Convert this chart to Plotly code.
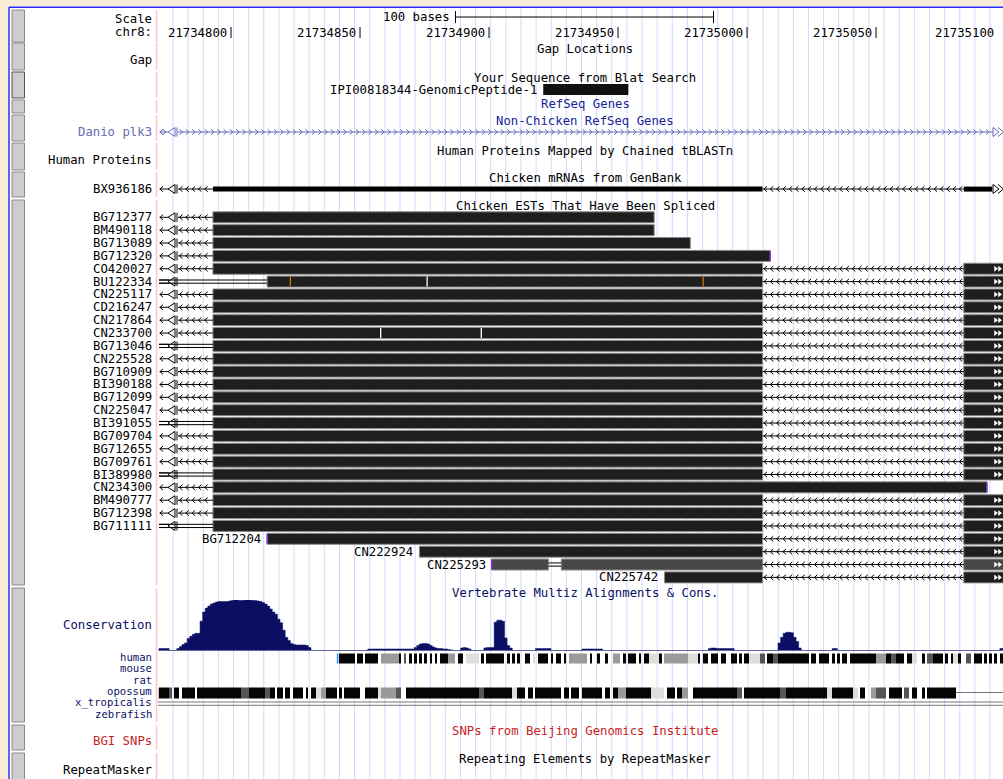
import numpy as np
import plotly.graph_objects as go

# ---------------- data ----------------
W, H = 1003, 779
WIN_START = 21734771.7          # genomic position at left edge of data area
WIN_END = 21735099.2            # genomic position at right edge
WIN_BASE = 21734772             # first base column
N_BASES = 328

ruler_ticks = [21734800, 21734850, 21734900, 21734950, 21735000, 21735050, 21735100]
scale_bar_start = 21734887
scale_bar_bases = 100

blat_name = "IPI00818344-GenomicPeptide-1"
blat_blocks = [(21734921, 21734954)]

mrna_name = "BX936186"
mrna_blocks = [(21734793, 21735006), (21735084, 21735095)]

A, B, C, E = 21734793, 21735006, 21735084, 21735101
std_blocks = [(A, B), (C, E)]

est_names = ["BG712377", "BM490118", "BG713089", "BG712320", "CO420027", "BU122334",
             "CN225117", "CD216247", "CN217864", "CN233700", "BG713046", "CN225528",
             "BG710909", "BI390188", "BG712099", "CN225047", "BI391055", "BG709704",
             "BG712655", "BG709761", "BI389980", "CN234300", "BM490777", "BG712398",
             "BG711111", "BG712204", "CN222924", "CN225293", "CN225742"]
est_blocks = [[(A, 21734964)], [(A, 21734964)], [(A, 21734978)], [(A, 21735009)],
              std_blocks, [(21734814, B), (C, E)],
              std_blocks, std_blocks, std_blocks, std_blocks, std_blocks, std_blocks,
              std_blocks, std_blocks, std_blocks, std_blocks, std_blocks, std_blocks,
              std_blocks, std_blocks, std_blocks, [(A, 21735093)], std_blocks, std_blocks,
              std_blocks, [(21734814, B), (C, E)], [(21734873, B), (C, E)],
              [(21734901, 21734923), (21734928, B), (C, E)], [(21734968, B), (C, E)]]
# left side: 'arrow' = chevron intron, 'double' = unaligned double line, None = inline label
est_left = ["arrow", "arrow", "arrow", "arrow", "arrow", "double",
            "arrow", "arrow", "arrow", "arrow", "double", "arrow",
            "arrow", "arrow", "arrow", "arrow", "double", "arrow",
            "arrow", "arrow", "double", "arrow", "arrow", "arrow",
            "double", None, None, None, None]
est_gray_rows = [27]
est_marks = [(3, 21735009, "#8a2be2"), (25, 21734814, "#8a2be2"), (27, 21734901, "#8a2be2"),
             (21, 21735093, "#8a2be2"), (5, 21734823, "#c87800"), (5, 21734983, "#c87800"),
             (5, 21734876, "#ffffff"), (9, 21734858, "#ffffff"), (9, 21734897, "#ffffff")]

# conservation (base index, value 0..1), held until next point
cons_idx = [0, 4, 7, 8, 9, 10, 11, 12, 13, 14, 16, 17, 18, 19, 20, 21, 22, 23, 27, 28, 29, 31, 33,
            36, 38, 39, 40, 41, 42, 43, 44, 45, 46, 47, 48, 49, 50, 51, 52, 53, 57, 58, 59, 81,
            99, 100, 101, 102, 104, 105, 106, 107, 108, 110, 112, 113, 114, 117, 118, 119, 120,
            121, 126, 127, 130, 131, 133, 134, 135, 136, 137, 146, 152, 164, 172, 213, 214, 216,
            223, 240, 241, 242, 243, 245, 246, 247, 248, 249, 261, 263, 326, 328]
cons_val = [0.04, 0, 0.04, 0.08, 0.12, 0.15, 0.24, 0.28, 0.32, 0.34, 0.58, 0.76, 0.84, 0.88, 0.92,
            0.94, 0.96, 0.97, 0.98, 0.99, 1.0, 0.99, 1.0, 0.99, 0.98, 0.97, 0.95, 0.92, 0.88, 0.82,
            0.76, 0.72, 0.62, 0.55, 0.4, 0.26, 0.2, 0.14, 0.12, 0.11, 0.1, 0.06, 0, 0.03,
            0.06, 0.1, 0.13, 0.14, 0.13, 0.1, 0.07, 0.05, 0.04, 0.03, 0.02, 0.01, 0, 0.05, 0.06,
            0.05, 0.03, 0, 0.05, 0.06, 0.56, 0.6, 0.58, 0.25, 0.1, 0.05, 0, 0.04, 0, 0.03, 0,
            0.04, 0.05, 0.04, 0, 0.15, 0.26, 0.34, 0.36, 0.35, 0.26, 0.18, 0.05, 0, 0.04, 0,
            0.04, 0.04]

# multiz shades: w light, g gray, d dark, k black  (start idx, end idx, shade)
human_segs = [(70, 75, 'k'), (77, 78, 'k'), (80, 84, 'k'), (86, 92, 'g'), (93, 93, 'k'), (95, 95, 'd'),
              (97, 97, 'k'), (99, 99, 'k'), (101, 101, 'k'), (103, 103, 'k'), (105, 105, 'k'),
              (107, 107, 'k'), (109, 111, 'k'), (112, 114, 'g'), (116, 117, 'k'), (119, 123, 'w'),
              (125, 125, 'k'), (127, 133, 'k'), (135, 135, 'k'), (137, 137, 'k'), (139, 139, 'k'),
              (142, 143, 'k'), (145, 145, 'w'), (147, 150, 'k'), (152, 152, 'k'), (154, 155, 'k'),
              (157, 157, 'k'), (159, 165, 'g'), (167, 167, 'k'), (170, 170, 'k'), (173, 173, 'k'),
              (176, 178, 'g'), (180, 180, 'k'), (182, 184, 'k'), (186, 186, 'k'), (188, 189, 'k'),
              (190, 193, 'w'), (194, 194, 'k'), (196, 204, 'g'), (205, 208, 'w'), (209, 209, 'k'),
              (211, 212, 'k'), (214, 216, 'k'), (218, 219, 'k'), (222, 223, 'k'), (225, 225, 'k'),
              (227, 228, 'k'), (229, 232, 'w'), (233, 234, 'd'), (236, 237, 'k'), (238, 239, 'd'),
              (240, 249, 'k'), (250, 251, 'k'), (253, 254, 'k'), (256, 257, 'k'), (258, 259, 'k'),
              (261, 261, 'k'), (263, 263, 'k'), (265, 266, 'k'), (268, 273, 'k'), (274, 277, 'k'),
              (278, 281, 'g'), (282, 283, 'k'), (284, 285, 'd'), (286, 288, 'k'), (290, 291, 'k'),
              (292, 293, 'w'), (296, 296, 'k'), (298, 299, 'd'), (300, 303, 'k'), (305, 305, 'k'),
              (307, 307, 'k'), (308, 309, 'w'), (310, 310, 'k'), (313, 314, 'd'), (316, 318, 'k'),
              (320, 320, 'k'), (322, 322, 'k'), (324, 324, 'k'), (326, 327, 'k')]
opossum_segs = [(0, 3, 'k'), (4, 4, 'd'), (6, 7, 'k'), (9, 13, 'k'), (15, 31, 'k'), (32, 34, 'd'),
                (35, 40, 'k'), (41, 42, 'd'), (43, 44, 'k'), (46, 47, 'k'), (49, 50, 'k'),
                (52, 55, 'k'), (57, 57, 'k'), (59, 60, 'k'), (61, 62, 'w'), (63, 64, 'g'),
                (65, 68, 'k'), (70, 70, 'k'), (72, 74, 'k'), (75, 77, 'k'), (80, 81, 'k'),
                (82, 84, 'k'), (85, 85, 'w'), (86, 91, 'g'), (92, 93, 'd'), (96, 123, 'k'),
                (124, 125, 'd'), (126, 136, 'k'), (137, 138, 'w'), (139, 141, 'k'), (143, 144, 'k'),
                (146, 153, 'k'), (154, 155, 'k'), (157, 158, 'k'), (160, 162, 'k'), (164, 171, 'k'),
                (173, 174, 'k'), (176, 177, 'k'), (178, 180, 'g'), (181, 182, 'k'), (183, 190, 'k'),
                (191, 195, 'w'), (197, 199, 'k'), (201, 202, 'k'), (203, 204, 'g'), (207, 213, 'k'),
                (214, 223, 'k'), (224, 225, 'd'), (227, 228, 'k'), (229, 234, 'k'), (235, 240, 'k'),
                (241, 242, 'd'), (243, 250, 'k'), (251, 252, 'k'), (253, 258, 'k'), (259, 260, 'w'),
                (261, 266, 'k'), (267, 268, 'k'), (269, 270, 'w'), (272, 273, 'k'), (276, 277, 'g'),
                (278, 281, 'd'), (283, 287, 'k'), (289, 290, 'd'), (292, 293, 'k'), (296, 296, 'k'),
                (298, 301, 'k'), (302, 304, 'k'), (305, 308, 'k')]
opossum_tail = (309, 327)
human_start_mark = 69

species = ["human", "mouse", "rat", "opossum", "x_tropicalis", "zebrafish"]
species_y = [657, 668.4, 679.8, 691.2, 702.6, 714]

# ---------------- style / layout helpers ----------------
FONT = "DejaVu Sans Mono"
FS = 12.3
FS_SPECIES = 10.6
DATA_LEFT = 158
BPP = (WIN_END - WIN_START) / (W - DATA_LEFT)   # bases per pixel
NAVY = "rgb(10,15,100)"
BLUE = "rgb(25,35,150)"
DANIO = "rgb(105,105,180)"
RED = "rgb(200,30,30)"
EST_Y0, EST_DY, EST_H = 217.3, 12.86, 11.0


def gx(px_from_left):
    return WIN_START + (px_from_left - DATA_LEFT) * BPP


def px(p):
    return p / W


fig = go.Figure()
shapes = []
ann = []

# background decorations
shapes.append(dict(type="rect", xref="paper", yref="y", x0=0, x1=px(8), y0=0, y1=H,
                   fillcolor="#f8ecd6", line_width=0, layer="below"))
shapes.append(dict(type="rect", xref="paper", yref="y", x0=0, x1=1, y0=0, y1=6.5,
                   fillcolor="#f8ecd6", line_width=0, layer="below"))
shapes.append(dict(type="line", xref="paper", yref="y", x0=px(9), x1=px(9), y0=7, y1=H,
                   line=dict(color="#2b2bff", width=1.5), layer="below"))
shapes.append(dict(type="line", xref="paper", yref="y", x0=px(9), x1=1, y0=7.3, y1=7.3,
                   line=dict(color="#2b2bff", width=1.5), layer="below"))

groups = [(10, 42), (43, 70), (72, 98), (100, 113), (115, 141), (143, 170), (172, 197),
          (200, 585), (588, 722), (725, 750), (753, 780)]
for gi, (y0, y1) in enumerate(groups):
    shapes.append(dict(type="rect", xref="paper", yref="y", x0=px(12), x1=px(24.5), y0=y0, y1=y1,
                       fillcolor="#cdcdcd",
                       line=dict(color="#555555" if gi == 2 else "#8a8a8a", width=1), layer="below"))
    shapes.append(dict(type="line", xref="paper", yref="y", x0=px(156.5), x1=px(156.5), y0=y0, y1=y1,
                       line=dict(color="#ffc4c4", width=1.5), layer="below"))

# guidelines
gp = 173.0
while gp < W:
    shapes.append(dict(type="line", xref="x", yref="y", x0=gx(gp), x1=gx(gp), y0=8, y1=H,
                       line=dict(color="#d6d6ff", width=1), layer="below"))
    gp += 15.13


def text(x, y, s, color="black", xanchor="right", xref="paper", xshift=0, size=FS):
    ann.append(dict(x=x, y=y, xref=xref, yref="y", text=s, showarrow=False, xanchor=xanchor,
                    yanchor="middle", xshift=xshift, font=dict(family=FONT, size=size, color=color)))


# left labels
left_labels = [("Scale", 19, "black"), ("chr8:", 32, "black"), ("Gap", 60, "black"),
               ("Danio plk3", 132, DANIO), ("Human Proteins", 160, "black"),
               (mrna_name, 189, "black"), ("Conservation", 625, NAVY),
               ("BGI SNPs", 741, RED), ("RepeatMasker", 770, "black")]
for s, y, c in left_labels:
    text(px(154), y, s, c)
for s, y in zip(species, species_y):
    text(px(154), y, s, NAVY, size=FS_SPECIES)

titles = [("Gap Locations", 49, "black"), ("Your Sequence from Blat Search", 78, "black"),
          ("RefSeq Genes", 104, BLUE), ("Non-Chicken RefSeq Genes", 121, BLUE),
          ("Human Proteins Mapped by Chained tBLASTn", 151, "black"),
          ("Chicken mRNAs from GenBank", 178, "black"),
          ("Chicken ESTs That Have Been Spliced", 206, "black"),
          ("Vertebrate Multiz Alignments &amp; Cons.", 593, NAVY),
          ("SNPs from Beijing Genomics Institute", 731, RED),
          ("Repeating Elements by RepeatMasker", 759, "black")]
for s, y, c in titles:
    text(px(585), y, s, c, xanchor="center")

# ruler
for t in ruler_ticks:
    shapes.append(dict(type="line", xref="x", yref="y", x0=t, x1=t, y0=27, y1=38,
                       line=dict(color="black", width=1)))
    anchor = min(t, WIN_END - 0.5)
    text(anchor, 32.5, str(t), xanchor="right", xref="x", xshift=-2 - (t - anchor) / BPP)
sb0, sb1 = scale_bar_start, scale_bar_start + scale_bar_bases
shapes.append(dict(type="line", xref="x", yref="y", x0=sb0, x1=sb1, y0=17, y1=17, line=dict(color="black", width=1)))
for t in (sb0, sb1):
    shapes.append(dict(type="line", xref="x", yref="y", x0=t, x1=t, y0=11, y1=23, line=dict(color="black", width=1)))
text(sb0, 17, "%d bases" % scale_bar_bases, xanchor="right", xref="x", xshift=-3)

# blat
for s0, s1 in blat_blocks:
    shapes.append(dict(type="rect", xref="x", yref="y", x0=s0, x1=s1, y0=84, y1=95,
                       fillcolor="#111111", line_width=0, layer="below"))
    text(s0, 89.5, blat_name, xanchor="right", xref="x", xshift=-4)


# line/chevron paths
LX, LY = {}, {}


def add_path(color, xs, ys, width=1):
    LX.setdefault((color, width), []).extend(xs + [None])
    LY.setdefault((color, width), []).extend(ys + [None])


def chevrons(x0, x1, yc, direction, color, step=6.3, w=3.0, h=2.7):
    add_path(color, [x0, x1], [yc, yc])
    pos = x0 + 1.5 * BPP
    while pos + (w + 1) * BPP <= x1:
        if direction < 0:
            add_path(color, [pos + w * BPP, pos, pos + w * BPP], [yc - h, yc, yc + h])
        else:
            add_path(color, [pos, pos + w * BPP, pos], [yc - h, yc, yc + h])
        pos += step * BPP


def left_glyph(yc, color, double=False):
    if double:
        add_path(color, [gx(159), gx(169)], [yc - 1.6, yc - 1.6])
        add_path(color, [gx(159), gx(169)], [yc + 1.6, yc + 1.6])
    else:
        add_path(color, [gx(159.5), gx(168)], [yc, yc])
        add_path(color, [gx(163), gx(160), gx(163)], [yc - 2.7, yc, yc + 2.7])
    add_path(color, [gx(175), gx(168), gx(175), gx(175)], [yc - 4.5, yc, yc + 4.5, yc - 4.5])
    add_path(color, [gx(177), gx(177)], [yc - 4.5, yc + 4.5])


def right_glyph(yc, color):
    add_path(color, [gx(993), gx(999), gx(993), gx(993)], [yc - 4.5, yc, yc + 4.5, yc - 4.5])
    add_path(color, [gx(998), gx(1003.5), gx(998)], [yc - 4.5, yc, yc + 4.5])


# Danio plk3 (forward strand)
chevrons(gx(178), gx(993), 132, +1, DANIO)
left_glyph(132, DANIO)
add_path(DANIO, [gx(163), gx(166), gx(163)], [129.3, 132, 134.7])
right_glyph(132, DANIO)

# mRNA
for s0, s1 in mrna_blocks:
    shapes.append(dict(type="rect", xref="x", yref="y", x0=s0, x1=s1, y0=186.6, y1=191.6,
                       fillcolor="black", line_width=0, layer="below"))
chevrons(gx(178), mrna_blocks[0][0], 189, -1, "black")
left_glyph(189, "black")
chevrons(mrna_blocks[0][1], mrna_blocks[1][0], 189, -1, "black")
right_glyph(189, "black")

# ESTs
tri_x, tri_y = [], []
for i, name in enumerate(est_names):
    yc = EST_Y0 + i * EST_DY
    blocks = est_blocks[i]
    fill = "#474747" if i in est_gray_rows else "#1e1e1e"
    for s0, s1 in blocks:
        shapes.append(dict(type="rect", xref="x", yref="y", x0=s0, x1=s1,
                           y0=yc - EST_H / 2, y1=yc + EST_H / 2, fillcolor=fill,
                           line=dict(color="#8c8c8c", width=1), layer="below"))
        if s1 > WIN_END:
            tri_x += [gx(995.5), gx(999.5)]
            tri_y += [yc, yc]
    # gaps between blocks
    for (a0, a1), (b0, b1) in zip(blocks[:-1], blocks[1:]):
        if b0 - a1 > 20:
            chevrons(a1, b0, yc, -1, "black")
        else:
            add_path("black", [a1, b0], [yc - 1.6, yc - 1.6])
            add_path("black", [a1, b0], [yc + 1.6, yc + 1.6])
    style = est_left[i]
    if style == "arrow":
        chevrons(gx(178), blocks[0][0], yc, -1, "black")
        left_glyph(yc, "black")
    elif style == "double":
        add_path("black", [gx(159), blocks[0][0]], [yc - 1.6, yc - 1.6])
        add_path("black", [gx(159), blocks[0][0]], [yc + 1.6, yc + 1.6])
        left_glyph(yc, "black", double=True)
    if style is None:
        text(blocks[0][0], yc, name, xanchor="right", xref="x", xshift=-4)
    else:
        text(px(154), yc, name)

for row, pos, col in est_marks:
    yc = EST_Y0 + row * EST_DY
    shapes.append(dict(type="line", xref="x", yref="y", x0=pos, x1=pos, y0=yc - EST_H / 2 + 0.5,
                       y1=yc + EST_H / 2 - 0.5, line=dict(color=col, width=1.3)))

fig.add_trace(go.Scatter(x=tri_x, y=tri_y, mode="markers", hoverinfo="skip",
                         marker=dict(symbol="triangle-right", size=5, color="white", line_width=0)))

for (col, wd), xs in LX.items():
    fig.add_trace(go.Scatter(x=xs, y=LY[(col, wd)], mode="lines", hoverinfo="skip",
                             line=dict(color=col, width=wd)))

# conservation on its own axis
cx = [WIN_BASE + i for i in cons_idx]
fig.add_trace(go.Scatter(x=[WIN_START, WIN_END], y=[0, 0], yaxis="y2", mode="lines",
                         line=dict(color=NAVY, width=1.2), hoverinfo="skip"))
fig.add_trace(go.Scatter(x=cx, y=cons_val, yaxis="y2", mode="lines", line_shape="hv",
                         line=dict(color=NAVY, width=0.5), fill="tozeroy", fillcolor=NAVY,
                         hoverinfo="skip"))

# multiz rows
SH = {'w': 0, 'g': 1, 'd': 2, 'k': 3}
edges = WIN_BASE + np.arange(N_BASES + 1)
cscale = [[0, "#dedede"], [0.1666, "#dedede"], [0.1667, "#9a9a9a"], [0.5, "#9a9a9a"],
          [0.5001, "#555555"], [0.8333, "#555555"], [0.8334, "#050505"], [1, "#050505"]]


def maf_z(segs):
    z = np.full(N_BASES, np.nan)
    for s, e, c in segs:
        z[s:e + 1] = SH[c]
    return z


for segs, (y0, y1) in [(human_segs, (653.5, 663.5)), (opossum_segs, (687.5, 698.5))]:
    fig.add_trace(go.Heatmap(x=edges, y=[y0, y1], z=[maf_z(segs)], zmin=0, zmax=3,
                             colorscale=cscale, showscale=False, hoverinfo="skip"))
shapes.append(dict(type="line", xref="x", yref="y", x0=WIN_BASE + human_start_mark + 0.3,
                   x1=WIN_BASE + human_start_mark + 0.3, y0=653.5, y1=663.5,
                   line=dict(color="#2a8cff", width=1.5)))
shapes.append(dict(type="line", xref="x", yref="y", x0=WIN_BASE + opossum_tail[0],
                   x1=WIN_BASE + opossum_tail[1] + 1, y0=692.5, y1=692.5,
                   line=dict(color="#777777", width=1)))
for yy in (702, 705.3):
    shapes.append(dict(type="line", xref="x", yref="y", x0=WIN_START, x1=WIN_END, y0=yy, y1=yy,
                       line=dict(color="#777777", width=1)))

c_top, c_bot = 600.0, 650.5
fig.update_layout(
    width=W, height=H, margin=dict(l=0, r=0, t=0, b=0),
    paper_bgcolor="white", plot_bgcolor="rgba(0,0,0,0)", showlegend=False,
    xaxis=dict(range=[WIN_START, WIN_END], domain=[DATA_LEFT / W, 1], visible=False,
               showgrid=False, zeroline=False),
    yaxis=dict(range=[H, 0], domain=[0, 1], visible=False, showgrid=False, zeroline=False),
    yaxis2=dict(range=[0, 1], domain=[(H - c_bot) / H, (H - c_top) / H], visible=False,
                showgrid=False, zeroline=False, anchor="x"),
    shapes=shapes, annotations=ann,
)

fig.write_html("out.html", config={"displayModeBar": False},
               post_script="document.body.style.margin='0px';document.body.style.overflow='hidden';")
